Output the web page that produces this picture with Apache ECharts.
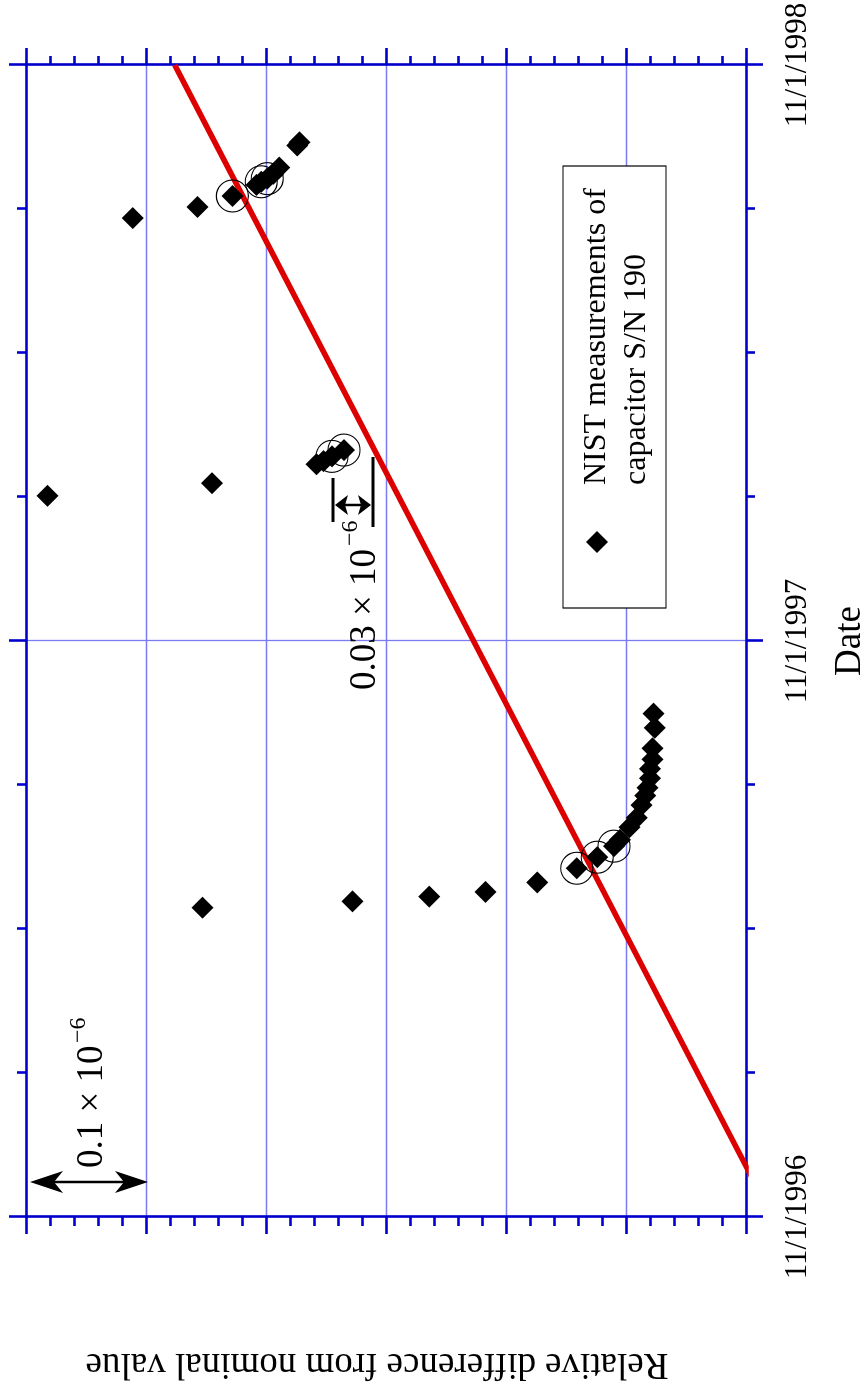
<!DOCTYPE html>
<html><head><meta charset="utf-8">
<script src="https://cdn.jsdelivr.net/npm/echarts/dist/echarts.min.js"></script>
<style>
html,body{margin:0;padding:0;overflow:hidden;background:#fff;width:867px;height:1389px}
#wrap{position:absolute;left:0;top:0;width:1389px;height:867px;transform-origin:0 0;transform:translateY(1389px) rotate(-90deg);}
</style></head><body><div id="wrap"></div>
<script>
// ---- data ----
const dateTickLabels = { 0: '11/1/1996', 365: '11/1/1997', 730: '11/1/1998' };
const measDates = [
  '1997-05-16','1997-05-20','1997-05-23','1997-05-26','1997-06-01','1997-06-10','1997-06-17','1997-06-24',
  '1997-06-28','1997-07-06','1997-07-12','1997-07-20','1997-07-26','1997-07-31','1997-08-06','1997-08-12',
  '1997-08-18','1997-08-25','1997-09-07','1997-09-16',
  '1998-02-01','1998-02-09','1998-02-21','1998-02-23','1998-02-26','1998-03-02',
  '1998-07-27','1998-08-03','1998-08-10','1998-08-17','1998-08-19','1998-08-21','1998-08-24','1998-08-28',
  '1998-09-11','1998-09-13'
];
const measValues = [
  0.453,0.328,0.264,0.217,0.174,0.141,0.124,0.110,
  0.105,0.097,0.091,0.087,0.084,0.082,0.080,0.080,
  0.078,0.078,0.076,0.077,
  0.582,0.445,0.358,0.352,0.345,0.335,
  0.511,0.457,0.428,0.408,0.404,0.399,0.394,0.389,
  0.374,0.372
];
const circledDates = ['1997-06-10','1997-06-17','1997-06-24','1998-02-26','1998-03-02','1998-08-10','1998-08-19','1998-08-21'];
const circledValues = [0.141,0.124,0.110,0.345,0.335,0.428,0.404,0.399];
const fitDates = ['1996-11-01','1998-11-01'];
const fitValues = [-0.022, 0.476];

// ---- helpers ----
const day0 = Date.UTC(1996, 10, 1);
function toDay(s){ const p = s.split('-').map(Number); return (Date.UTC(p[0], p[1]-1, p[2]) - day0) / 86400000; }
function pairs(ds, vs){ return ds.map((d,i)=>[toDay(d), vs[i]]); }

const BLUE = '#0000cc';
const GRIDC = '#7b7bf2';
const FONT = '"Liberation Serif","Times New Roman",serif';

const chart = echarts.init(document.getElementById('wrap'), null, {renderer:'canvas'});

function xAx(pos, labels){
  return {
    type:'value', position:pos, min:0, max:730, interval:365,
    axisLine:{show:true, onZero:false, lineStyle:{color:BLUE, width:2.6}},
    axisTick:{show:true, inside:false, length:17, lineStyle:{color:BLUE, width:2.6}},
    minorTick:{show:true, splitNumber:4, length:9, lineStyle:{color:BLUE, width:2.6}},
    splitLine:{show: pos==='bottom', lineStyle:{color:GRIDC, width:1.3}},
    axisLabel:{show:labels, margin:36, color:'#000', fontSize:31, fontFamily:FONT,
      showMinLabel:true, showMaxLabel:true,
      formatter:v=> dateTickLabels[Math.round(v)] || ''},
    name: labels ? 'Date' : '', nameLocation:'middle', nameGap:86,
    nameTextStyle:{color:'#000', fontSize:37, fontFamily:FONT}
  };
}
function yAx(pos, main){
  return {
    type:'value', position:pos, min:0, max:0.6, interval:0.1,
    axisLine:{show:true, onZero:false, lineStyle:{color:BLUE, width:2.6}},
    axisTick:{show:true, inside:false, length:17, lineStyle:{color:BLUE, width:2.6}},
    minorTick:{show:true, splitNumber:5, length:9, lineStyle:{color:BLUE, width:2.6}},
    splitLine:{show: main, lineStyle:{color:GRIDC, width:1.3}},
    axisLabel:{show:false},
    name: main ? 'Relative difference from nominal value' : '', nameLocation:'middle', nameGap:128,
    nameTextStyle:{color:'#000', fontSize:37, fontFamily:FONT, padding:[0,0,0,18]}
  };
}

function arrowHead(u, v, dir, len, half, notch){
  return [[u, v], [u+half, v - dir*len], [u, v - dir*notch], [u-half, v - dir*len]];
}

const txt = (text, x, y, size, align, va) => ({
  type:'text', z:10, silent:true,
  style:{text, x, y, fill:'#000', font: size+'px '+FONT, textAlign:align||'left', textVerticalAlign:va||'middle', verticalAlign:va||'middle'}
});

const graphics = [
  // 0.1 x 10^-6 scale arrow
  {type:'line', z:10, shape:{x1:207, y1:40, x2:207, y2:138}, style:{stroke:'#000', lineWidth:2.5}},
  {type:'polygon', z:10, shape:{points: arrowHead(207, 30, -1, 33, 11, 24)}, style:{fill:'#000'}},
  {type:'polygon', z:10, shape:{points: arrowHead(207, 148, 1, 33, 11, 24)}, style:{fill:'#000'}},
  txt('0.1 × 10', 221, 92, 37),
  txt('−6', 346, 79, 24),
  // 0.03 x 10^-6 bracket
  {type:'line', z:10, shape:{x1:867, y1:333, x2:911, y2:333}, style:{stroke:'#000', lineWidth:3}},
  {type:'line', z:10, shape:{x1:862, y1:373, x2:932, y2:373}, style:{stroke:'#000', lineWidth:3}},
  {type:'line', z:10, shape:{x1:884, y1:344, x2:884, y2:362}, style:{stroke:'#000', lineWidth:2.5}},
  {type:'polygon', z:10, shape:{points: arrowHead(884, 335, -1, 13, 10, 10)}, style:{fill:'#000'}},
  {type:'polygon', z:10, shape:{points: arrowHead(884, 371, 1, 13, 10, 10)}, style:{fill:'#000'}},
  txt('0.03 × 10', 699, 365, 37),
  txt('−6', 843, 351, 24),
  // legend box
  {type:'rect', z:9, shape:{x:781, y:563, width:442, height:103}, style:{fill:'#fff', stroke:'#000', lineWidth:1.2}},
  txt('NIST measurements of', 904, 597, 32),
  txt('capacitor S/N 190', 904, 637, 32),
  {type:'polygon', z:10, shape:{points:[[847,586],[858,597],[847,608],[836,597]]}, style:{fill:'#000'}}
];

chart.setOption({
  animation:false,
  backgroundColor:'#fff',
  grid:{left:172, right:65, top:26, bottom:121, containLabel:false, outerBoundsMode:'none'},
  xAxis:[xAx('bottom', true), xAx('top', false)],
  yAxis:[yAx('left', true), yAx('right', false)],
  series:[
    {type:'line', name:'fit', data: pairs(fitDates, fitValues), symbol:'none', clip:true, z:2,
      lineStyle:{color:'#dd0000', width:5.5}},
    {type:'scatter', name:'circled', data: pairs(circledDates, circledValues), symbol:'circle', symbolSize:32, z:3,
      itemStyle:{color:'rgba(0,0,0,0)', borderColor:'#000', borderWidth:1.1, opacity:1}},
    {type:'scatter', name:'NIST measurements of capacitor S/N 190', data: pairs(measDates, measValues),
      symbol:'diamond', symbolSize:22, z:4, itemStyle:{color:'#000', opacity:1}}
  ],
  graphic: graphics
});
</script></body></html>
